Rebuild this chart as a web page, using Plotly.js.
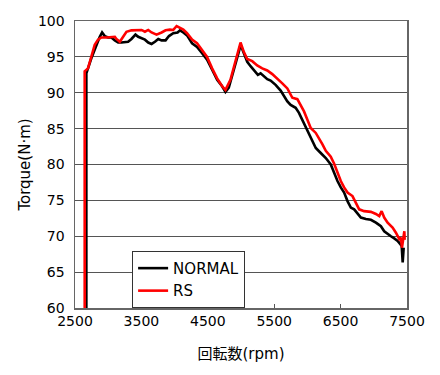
<!DOCTYPE html>
<html>
<head>
<meta charset="utf-8">
<script src="https://cdn.plot.ly/plotly-3.0.1.min.js"></script>
<style>html,body{margin:0;padding:0;background:#fff}#chart{width:440px;height:375px}</style>
</head>
<body>
<div id="chart"></div>
<script>
const seriesNames = ["NORMAL", "RS"];
const xTickVals = [2500, 3500, 4500, 5500, 6500, 7500];
const xTickText = ["2500", "3500", "4500", "5500", "6500", "7500"];
const yTickVals = [60, 65, 70, 75, 80, 85, 90, 95, 100];

const normalRpm = [2671, 2671, 2746, 2822, 2873, 2908, 2948, 2998, 3048, 3100, 3150, 3200, 3250, 3300, 3350, 3411, 3452, 3502, 3553, 3603, 3653, 3704, 3754, 3804, 3864, 3915, 3980, 4045, 4081, 4131, 4187, 4263, 4338, 4414, 4489, 4565, 4641, 4716, 4766, 4816, 4867, 4917, 4967, 4993, 5042, 5094, 5144, 5193, 5219, 5254, 5295, 5344, 5396, 5446, 5521, 5597, 5647, 5698, 5748, 5823, 5873, 5924, 5974, 6024, 6075, 6126, 6201, 6277, 6352, 6403, 6453, 6503, 6553, 6604, 6654, 6704, 6755, 6805, 6881, 6956, 7032, 7107, 7157, 7208, 7258, 7308, 7359, 7399, 7420, 7435, 7450];
const normalTorque = [60, 92.7, 94.8, 96.7, 97.8, 98.4, 97.9, 97.7, 97.7, 97.3, 97.0, 97.0, 97.1, 97.1, 97.5, 98.1, 97.8, 97.6, 97.4, 97.0, 96.8, 97.1, 97.5, 97.3, 97.3, 97.9, 98.3, 98.4, 98.7, 98.4, 98.0, 96.9, 96.4, 95.5, 94.6, 93.2, 91.8, 90.9, 90.1, 90.7, 92.3, 94.1, 95.7, 96.7, 95.5, 94.3, 93.7, 93.2, 93.0, 92.5, 92.7, 92.3, 91.9, 91.7, 91.1, 90.3, 89.5, 88.8, 88.3, 87.9, 87.2, 86.25, 85.1, 84.2, 83.2, 82.3, 81.6, 80.9, 80.0, 78.8, 77.7, 76.8, 76.1, 74.9, 74.0, 73.75, 73.1, 72.6, 72.4, 72.3, 71.9, 71.4, 70.7, 70.3, 70.0, 69.7, 69.35, 68.9, 68.65, 66.35, 68.4];

const rsRpm = [2646, 2646, 2696, 2746, 2797, 2847, 2897, 2973, 3048, 3100, 3124, 3175, 3225, 3275, 3350, 3426, 3502, 3553, 3603, 3653, 3728, 3804, 3864, 3930, 3980, 4031, 4081, 4131, 4187, 4263, 4338, 4414, 4489, 4565, 4641, 4716, 4766, 4841, 4917, 4993, 5042, 5094, 5169, 5244, 5320, 5396, 5471, 5547, 5622, 5698, 5748, 5773, 5849, 5899, 5949, 6000, 6050, 6126, 6176, 6227, 6277, 6352, 6403, 6453, 6503, 6553, 6604, 6679, 6730, 6780, 6855, 6956, 7032, 7082, 7118, 7157, 7208, 7283, 7333, 7384, 7409, 7424, 7443, 7460, 7465];
const rsTorque = [60, 93.0, 93.4, 95.0, 96.7, 97.4, 97.7, 97.7, 97.7, 97.8, 97.5, 97.1, 97.8, 98.5, 98.7, 98.75, 98.75, 98.5, 98.75, 98.4, 98.1, 98.4, 98.7, 98.8, 98.75, 99.3, 99.1, 98.8, 98.3, 97.4, 96.9, 96.0, 95.0, 93.4, 92.0, 90.9, 90.4, 91.8, 94.4, 97.0, 95.7, 94.7, 94.4, 93.8, 93.4, 93.1, 92.6, 92.0, 91.3, 90.6, 89.8, 89.3, 89.1, 88.3, 87.4, 86.25, 85.1, 84.4, 83.7, 82.8, 81.9, 81.1, 80.1, 78.8, 77.7, 76.8, 76.1, 75.6, 74.7, 73.75, 73.5, 73.4, 73.1, 72.8, 73.5, 72.6, 71.9, 71.2, 70.5, 69.6, 69.8, 68.4, 69.6, 70.7, 69.5];

const xTitle = "回転数(rpm)";
const yTitle = "Torque(N·m)";

const fontFam = "DejaVu Sans, Noto Sans CJK JP, sans-serif";

const traces = [
  {x: normalRpm, y: normalTorque, name: seriesNames[0], type: "scatter", mode: "lines",
   line: {color: "#000000", width: 2.6}},
  {x: rsRpm, y: rsTorque, name: seriesNames[1], type: "scatter", mode: "lines",
   line: {color: "#ff0000", width: 2.6}}
];

const layout = {
  width: 440, height: 375,
  margin: {l: 75, r: 33, t: 21, b: 67},
  paper_bgcolor: "#ffffff", plot_bgcolor: "#ffffff",
  font: {family: fontFam, size: 14, color: "#000"},
  showlegend: true,
  legend: {x: 0.172, y: 0.199, xanchor: "left", yanchor: "top",
           bgcolor: "#ffffff", bordercolor: "#333333", borderwidth: 1,
           entrywidth: 82, entrywidthmode: "pixels",
           font: {family: fontFam, size: 15, color: "#000"}, traceorder: "normal"},
  xaxis: {range: [2500, 7500], tickmode: "array", tickvals: xTickVals, ticktext: xTickText,
          ticks: "inside", ticklen: 4, tickcolor: "#555", showgrid: false, zeroline: false,
          showline: true, linecolor: "#666", linewidth: 1.5, mirror: true,
          tickfont: {family: fontFam, size: 14},
          title: {text: xTitle, font: {family: fontFam, size: 15}, standoff: 20}},
  yaxis: {range: [60, 100], tickmode: "array", tickvals: yTickVals,
          ticks: "", showgrid: true, gridcolor: "#555", gridwidth: 1, zeroline: false,
          showline: true, linecolor: "#666", linewidth: 1.5, mirror: true,
          ticklabelstandoff: 6,
          tickfont: {family: fontFam, size: 14},
          title: {text: yTitle, font: {family: fontFam, size: 15}, standoff: 3}}
};

Plotly.newPlot("chart", traces, layout, {displayModeBar: false, staticPlot: true});
</script>
</body>
</html>
